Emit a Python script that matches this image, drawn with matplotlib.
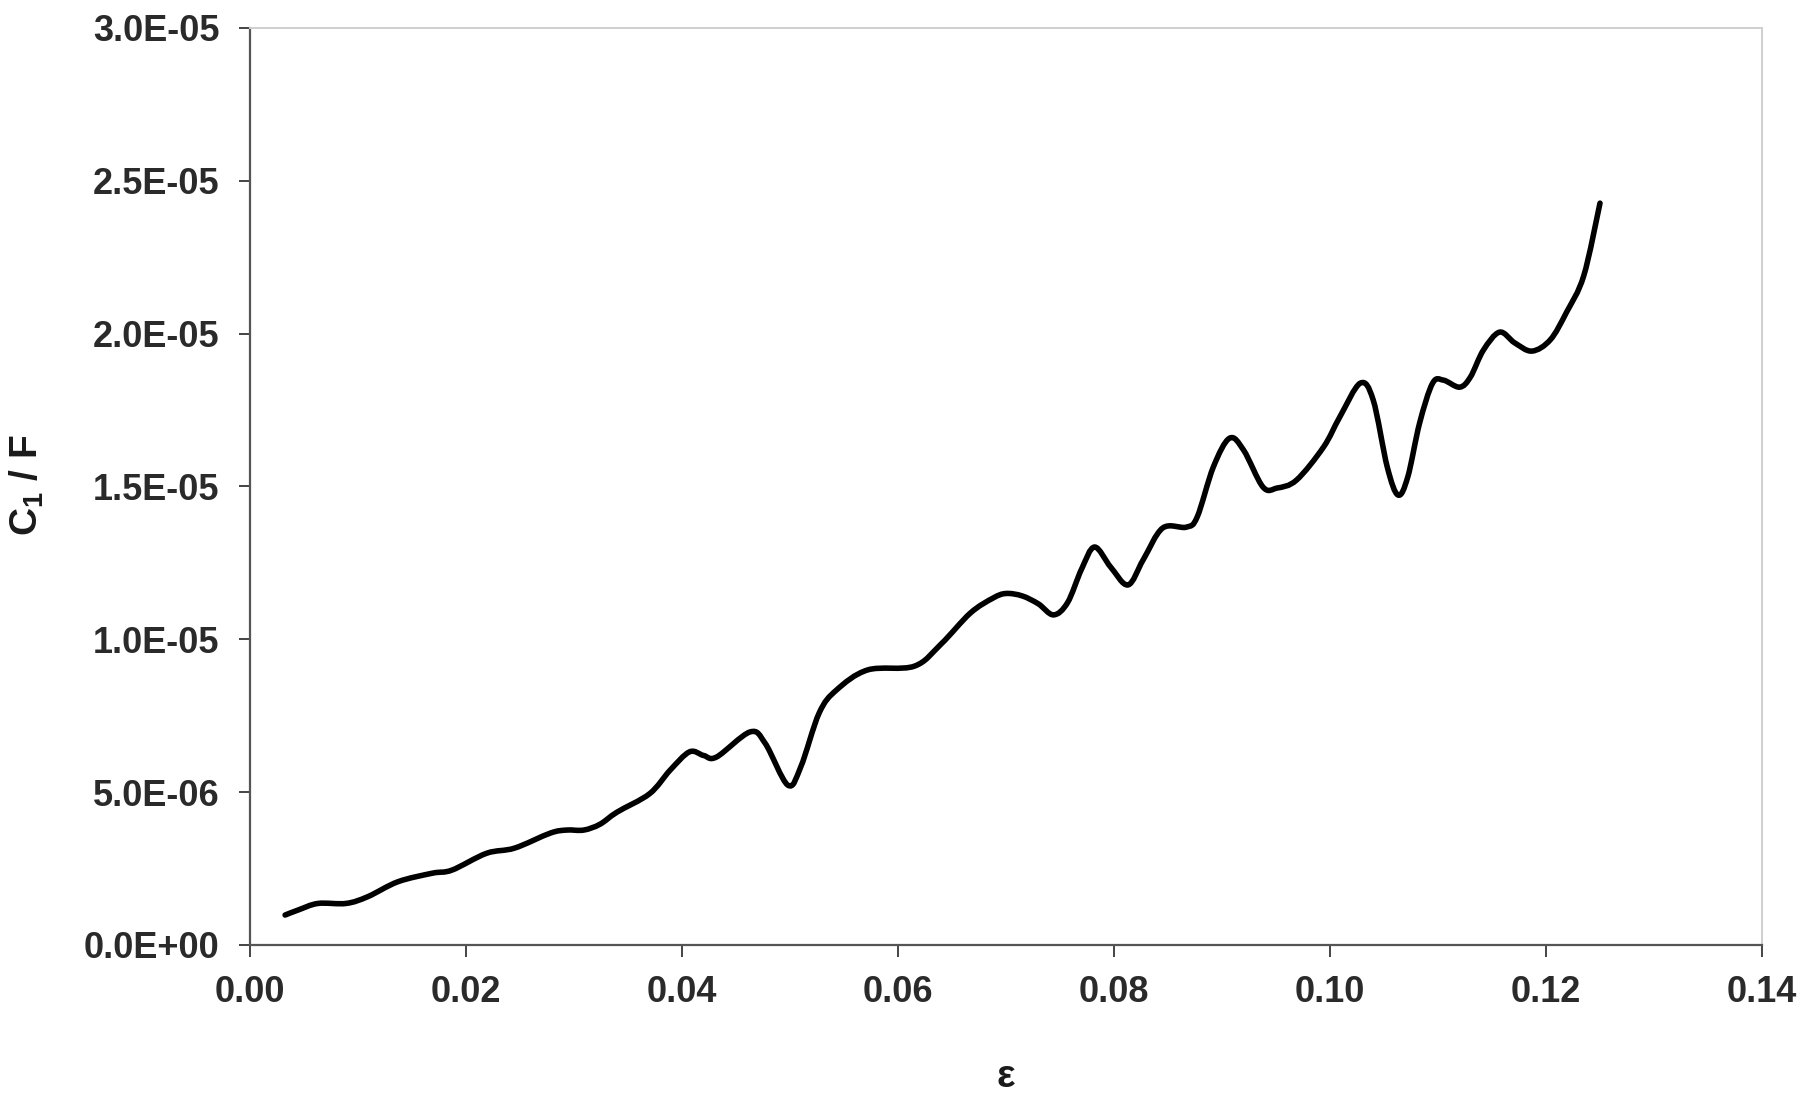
import matplotlib
matplotlib.use("Agg")
import matplotlib.pyplot as plt
from matplotlib.path import Path
from matplotlib.patches import PathPatch

plt.rcParams['font.family'] = ['Liberation Sans', 'DejaVu Sans']
plt.rcParams['mathtext.fontset'] = 'custom'
plt.rcParams['mathtext.rm'] = 'Liberation Sans:bold'
plt.rcParams['mathtext.default'] = 'rm'

# strain values (epsilon)
eps = [0.00325, 0.0045, 0.0063, 0.0089, 0.0109, 0.0137, 0.0169, 0.0187,
       0.0219, 0.0245, 0.0278, 0.0293, 0.0309, 0.0324, 0.0340, 0.0370,
       0.0389, 0.0407, 0.0420, 0.0432, 0.0463, 0.0477, 0.0498, 0.0510,
       0.0527, 0.0543, 0.0572, 0.0615, 0.0640, 0.0667, 0.0688, 0.0700,
       0.0715, 0.0730, 0.0744, 0.0757, 0.0770, 0.0782, 0.0797, 0.0813,
       0.0827, 0.0845, 0.0867, 0.0877, 0.0892, 0.0907, 0.0920, 0.0938,
       0.0951, 0.0969, 0.0994, 0.1009, 0.1028, 0.1040, 0.1053, 0.1063,
       0.1072, 0.1083, 0.1095, 0.1105, 0.1120, 0.1130, 0.1142, 0.1157,
       0.1171, 0.1187, 0.1204, 0.1219, 0.1235, 0.1250]
# C1/F values (units of 1e-6)
c1f_e6 = [0.98, 1.15, 1.36, 1.36, 1.58, 2.07, 2.35, 2.45,
          3.00, 3.17, 3.66, 3.76, 3.76, 3.95, 4.35, 4.95,
          5.72, 6.32, 6.20, 6.15, 6.97, 6.60, 5.23, 5.83,
          7.59, 8.34, 9.00, 9.12, 9.85, 10.86, 11.35, 11.50,
          11.42, 11.16, 10.80, 11.20, 12.30, 13.02, 12.36, 11.78,
          12.60, 13.64, 13.67, 14.00, 15.64, 16.58, 16.19, 14.98,
          14.95, 15.21, 16.29, 17.27, 18.38, 17.83, 15.64, 14.72,
          15.31, 17.08, 18.38, 18.48, 18.25, 18.58, 19.46, 20.05,
          19.70, 19.43, 19.80, 20.70, 21.90, 24.27]
c1f = [v * 1e-6 for v in c1f_e6]

xticks = [0.00, 0.02, 0.04, 0.06, 0.08, 0.10, 0.12, 0.14]
xticklabels = ["0.00", "0.02", "0.04", "0.06", "0.08", "0.10", "0.12", "0.14"]
yticks = [0, 5e-6, 1e-5, 1.5e-5, 2e-5, 2.5e-5, 3e-5]
yticklabels = ["0.0E+00", "5.0E-06", "1.0E-05", "1.5E-05", "2.0E-05", "2.5E-05", "3.0E-05"]


def smooth_path(xs, ys, tension=1.0 / 6.0):
    """Catmull-Rom style smoothed line through the points (like a spreadsheet 'smoothed line')."""
    n = len(xs)
    verts = [(xs[0], ys[0])]
    codes = [Path.MOVETO]
    for i in range(n - 1):
        x0, y0 = (xs[i - 1], ys[i - 1]) if i > 0 else (xs[i], ys[i])
        x1, y1 = xs[i], ys[i]
        x2, y2 = xs[i + 1], ys[i + 1]
        x3, y3 = (xs[i + 2], ys[i + 2]) if i + 2 < n else (x2, y2)
        c1 = (x1 + (x2 - x0) * tension, y1 + (y2 - y0) * tension)
        c2 = (x2 - (x3 - x1) * tension, y2 - (y3 - y1) * tension)
        verts += [c1, c2, (x2, y2)]
        codes += [Path.CURVE4, Path.CURVE4, Path.CURVE4]
    return Path(verts, codes)


fig = plt.figure(figsize=(18, 11.02), dpi=100)
ax = fig.add_axes([250/1800, 1-945/1102, (1762-250)/1800, (945-28)/1102])

patch = PathPatch(smooth_path(eps, c1f), facecolor='none', edgecolor='black',
                  lw=4.0, capstyle='round', joinstyle='round', transform=ax.transData)
ax.add_patch(patch)

ax.set_xlim(0, 0.14)
ax.set_ylim(0, 3e-5)
ax.set_xticks(xticks)
ax.set_xticklabels(xticklabels)
ax.set_yticks(yticks)
ax.set_yticklabels(yticklabels)

for lab in ax.get_xticklabels() + ax.get_yticklabels():
    lab.set_fontsize(26)
    lab.set_fontweight('bold')
    lab.set_color('#2a2a2a')

ax.tick_params(axis='x', direction='out', length=8.5, width=1.4, color='#444444', pad=13)
ax.tick_params(axis='y', direction='out', length=8, width=1.4, color='#444444', pad=14)

for s in ['left', 'bottom']:
    ax.spines[s].set_color('#555555')
    ax.spines[s].set_linewidth(1.6)
for s in ['top', 'right']:
    ax.spines[s].set_color('#cfcfcf')
    ax.spines[s].set_linewidth(1.4)

fig.text(27/1800, 1-485/1102, r"C$_{1}$ / F", rotation=90, ha='center', va='center',
         fontsize=28, fontweight='bold', color='#1a1a1a')
fig.text(1006/1800, 1-1077/1102, "ε", ha='center', va='center',
         fontsize=28, fontweight='bold', color='#1a1a1a')

fig.savefig("out.png", dpi=100, facecolor='white')
